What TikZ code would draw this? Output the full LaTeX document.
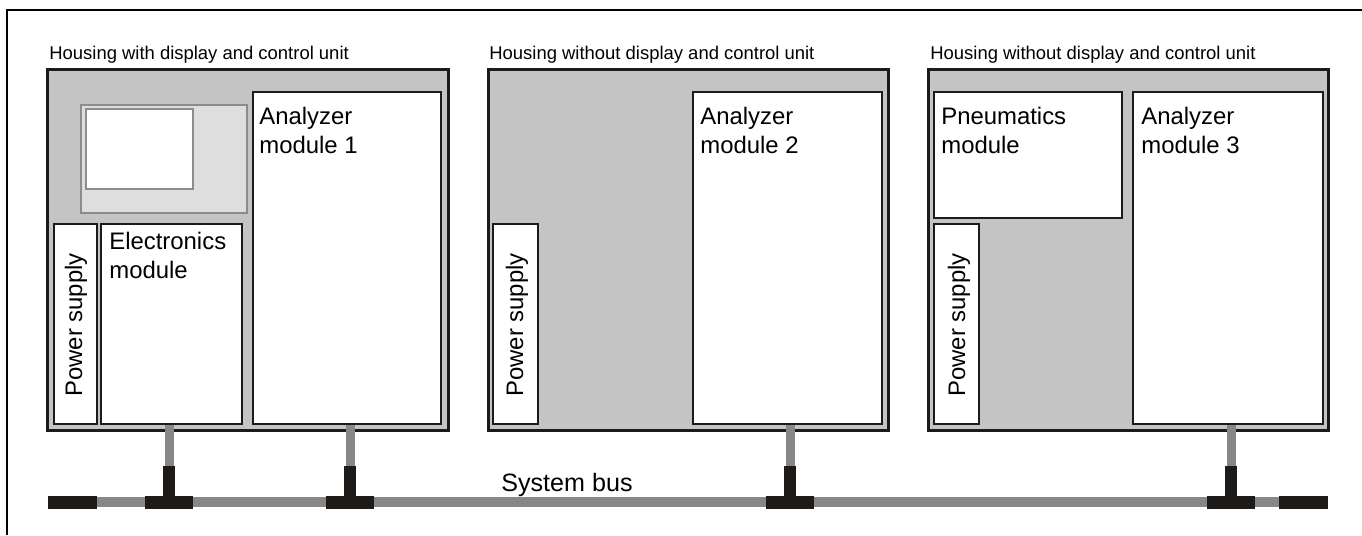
\documentclass[tikz,border=0pt]{standalone}
\usepackage{fontspec}
\setmainfont{Liberation Sans}
\usetikzlibrary{calc,fit}
\definecolor{housegray}{HTML}{C4C4C4}
\definecolor{panelgray}{HTML}{DEDEDE}
\definecolor{framegray}{HTML}{8C8C8C}
\definecolor{busgray}{HTML}{878787}
\definecolor{tblack}{HTML}{1E1A18}
\tikzset{
	housing/.style={draw=tblack, line width=0.06cm, fill=housegray, inner sep=0pt},
	module/.style={draw=tblack, line width=0.055cm, fill=white, inner sep=0pt},
	modtext/.style={anchor=north west, inner sep=0pt, align=left, font=\fontsize{13.6}{16.5}\selectfont},
	captext/.style={anchor=north west, inner sep=0pt, font=\fontsize{10.5}{12}\selectfont},
	supplytext/.style={rotate=90, anchor=base west, inner sep=0pt, font=\fontsize{13.6}{16.5}\selectfont},
	stub/.style={draw=busgray, line width=0.18cm},
}
\def\busT(#1){\fill[tblack] ($(#1)+(-6,-36)$) rectangle ($(#1)+(6,0)$); \fill[tblack] ($(#1)+(-24,-6)$) rectangle ($(#1)+(24,7)$);}

\begin{document}
\begin{tikzpicture}[x=0.02cm, y=-0.02cm]
			%%%%% START %%%%%
			\useasboundingbox (0,0) rectangle (1362,535);
			\draw[line width=0.055cm] (7,535) -- (7,10) -- (1362,10);
			
			% housing 1
			\node[captext] (cap1) at (49,46) {Housing with display and control unit};
			\node[housing, fit={(47,69) (448,430)}] (h1) {};
			\draw[draw=framegray, fill=panelgray, line width=0.035cm] (81,105) rectangle (247,213);
			\draw[draw=framegray, fill=white, line width=0.035cm] (86,109) rectangle (193,189);
			\node[module, fit={(54,224) (97,424)}] (ps1) {};
			\node[module, fit={(101,224) (242,424)}] (em) {};
			\node[module, fit={(253,92) (441,424)}] (am1) {};
			\node[supplytext] (pst1) at (82,397) {Power supply};
			\node[modtext] (emt) at (109,232) {Electronics\\module};
			\node[modtext] (amt1) at (259,107) {Analyzer\\module 1};
			
			% housing 2
			\node[captext] (cap2) at (489,46) {Housing without display and control unit};
			\node[housing, fit={(488,69) (888,430)}] (h2) {};
			\node[module, fit={(493,224) (538,424)}] (ps2) {};
			\node[module, fit={(693,92) (882,424)}] (am2) {};
			\node[supplytext] (pst2) at (523,397) {Power supply};
			\node[modtext] (amt2) at (700,107) {Analyzer\\module 2};
			
			% housing 3
			\node[captext] (cap3) at (930,46) {Housing without display and control unit};
			\node[housing, fit={(928,69) (1328,430)}] (h3) {};
			\node[module, fit={(934,92) (1122,218)}] (pm) {};
			\node[module, fit={(934,224) (979,424)}] (ps3) {};
			\node[module, fit={(1133,92) (1323,424)}] (am3) {};
			\node[supplytext] (pst3) at (965,397) {Power supply};
			\node[modtext] (pmt) at (941,107) {Pneumatics\\module};
			\node[modtext] (amt3) at (1141,107) {Analyzer\\module 3};
			
			% system bus
			\coordinate (bl) at (48,502);
			\coordinate (br) at (1328,502);
			\draw[busgray, line width=0.2cm] (bl) -- (br);
			\fill[tblack] (48,496) rectangle (97,509);
			\fill[tblack] (1279,496) rectangle (1328,509);
			\node[modtext, font=\fontsize{14.3}{17}\selectfont] (bus) at (501,473) {System bus};
			
			\coordinate (t1) at (169,502);
			\coordinate (t2) at (350,502);
			\coordinate (t3) at (790,502);
			\coordinate (t4) at (1231,502);
			\draw[stub] (em.south -| t1) -- (t1);
			\draw[stub] (am1.south -| t2) -- (t2);
			\draw[stub] (am2.south -| t3) -- (t3);
			\draw[stub] (am3.south -| t4) -- (t4);
			\busT(t1) \busT(t2) \busT(t3) \busT(t4)
			%%%%% END %%%%%
\end{tikzpicture}
\end{document}
